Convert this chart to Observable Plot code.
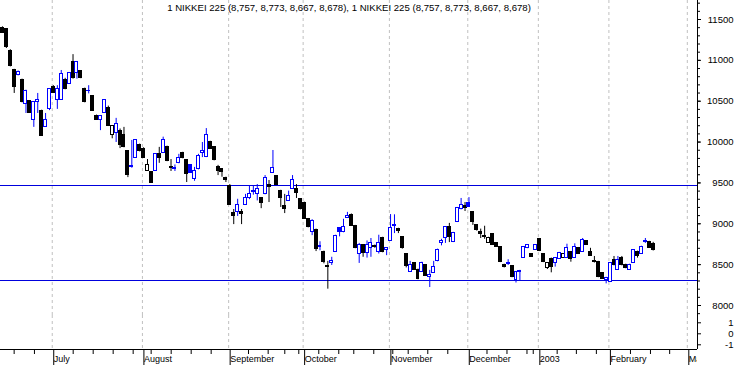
<!DOCTYPE html>
<html><head><meta charset="utf-8">
<script src="https://cdn.jsdelivr.net/npm/d3@7"></script>
<script src="https://cdn.jsdelivr.net/npm/@observablehq/plot@0.6"></script>
<style>
html,body{margin:0;padding:0;background:#fff;}
#chart{position:relative;width:738px;height:365px;overflow:hidden;background:#fff;}
#chart svg{position:absolute;left:0;}
</style></head><body><div id="chart"></div>
<script>
const title = "1 NIKKEI 225 (8,757, 8,773, 8,667, 8,678), 1 NIKKEI 225 (8,757, 8,773, 8,667, 8,678)";

const opens = [11390,11380,11120,10876,10820,10765,10470,10497,10264,10490,
10386,10180,10410,10670,10520,10520,10765,10715,10975,10850,
10865,10655,10625,10560,10325,10270,10360,10420,10090,10105,
10141,10090,9885,9690,9810,9970,9920,9640,9630,9650,
9850,9870,9945,9700,9675,9740,9870,9775,9715,9545,
9665,9870,9815,10005,9935,9690,9665,9565,9460,9130,
9150,9145,9235,9320,9395,9370,9310,9360,9480,9620,
9580,9405,9215,9280,9430,9430,9300,9260,9060,8900,
8930,8720,8660,8485,8520,8655,8945,8895,9070,9110,
8975,8635,8735,8640,8700,8725,8650,8830,8675,8795,
8975,8940,8835,8625,8410,8520,8440,8410,8490,8345,
8400,8540,8760,8830,8955,8775,9020,9185,9215,9260,
9140,8980,8905,8850,8765,8870,8760,8710,8500,8510,
8480,8315,8415,8585,8700,8625,8685,8815,8625,8465,
8575,8520,8575,8585,8580,8655,8580,8700,8660,8785,
8660,8550,8535,8395,8310,8290,8560,8435,8580,8500,
8435,8520,8660,8630,8775,8780,8757];

const highs = [11410,11385,11130,10890,10870,10770,10635,10500,10490,10595,
10390,10350,10650,10690,10690,10876,10780,10850,11070,10980,
10870,10660,10690,10565,10330,10325,10520,10440,10200,10290,
10160,10180,9890,10020,10025,9975,9930,9786,9635,9855,
9935,10060,9950,9786,9720,9850,9875,9780,9720,9690,
9850,9995,10165,10010,9940,9715,9675,9570,9480,9175,
9300,9175,9360,9460,9460,9480,9320,9590,9530,9897,
9585,9410,9360,9400,9590,9480,9305,9265,9065,9050,
8935,8780,8665,8540,8590,8860,8950,9055,9140,9120,
8980,8760,8745,8790,8820,8740,8860,8835,8705,9113,
9110,8945,8840,8630,8540,8525,8445,8530,8495,8430,
8540,8690,8810,8965,9005,8895,9200,9310,9260,9320,
9145,8985,8935,8970,8835,8875,8765,8715,8505,8560,
8485,8415,8430,8720,8740,8630,8740,8820,8630,8520,
8580,8585,8650,8630,8750,8660,8755,8710,8820,8790,
8700,8600,8540,8400,8345,8525,8600,8600,8600,8505,
8505,8685,8665,8725,8820,8785,8773];

const lows = [11330,11145,10920,10595,10810,10480,10350,10355,10180,10350,
10070,10180,10385,10600,10400,10510,10640,10710,10770,10770,
10775,10480,10590,10380,10270,10140,10355,10190,10040,9995,
9920,9930,9565,9680,9805,9880,9800,9640,9500,9645,
9740,9865,9760,9640,9640,9735,9795,9505,9620,9520,
9660,9810,9810,9915,9770,9590,9570,9505,9225,8990,
9090,8990,9230,9295,9350,9280,9185,9355,9260,9620,
9475,9200,9125,9275,9425,9310,9170,9055,8950,8855,
8660,8670,8510,8200,8490,8650,8840,8890,9065,8970,
8695,8515,8590,8580,8590,8700,8630,8645,8610,8790,
8880,8880,8690,8460,8405,8435,8315,8405,8355,8220,
8395,8535,8730,8760,8770,8770,9015,9170,9150,9200,
8980,8910,8820,8810,8760,8740,8710,8525,8460,8490,
8340,8275,8305,8580,8695,8590,8680,8660,8525,8440,
8400,8470,8570,8580,8575,8530,8575,8625,8655,8740,
8605,8520,8340,8320,8265,8285,8485,8430,8485,8450,
8430,8515,8580,8625,8760,8700,8667];

const closes = [11340,11160,10925,10670,10855,10485,10630,10360,10485,10510,
10080,10270,10645,10605,10645,10830,10655,10840,10780,10975,
10780,10485,10630,10386,10275,10320,10509,10200,10195,10227,
9960,9935,9600,9710,10020,9885,9810,9715,9505,9850,
9810,10020,9765,9680,9685,9810,9800,9615,9625,9650,
9825,9885,10090,9920,9775,9640,9630,9530,9230,9100,
9235,9125,9320,9370,9400,9430,9250,9555,9445,9680,
9480,9320,9175,9335,9540,9380,9175,9060,8955,9040,
8695,8725,8535,8470,8540,8855,8895,8960,9100,8975,
8700,8735,8640,8735,8770,8720,8770,8650,8700,8950,
8985,8910,8700,8480,8490,8440,8320,8525,8360,8375,
8475,8685,8790,8960,8835,8890,9195,9225,9195,9210,
9020,8930,8870,8835,8830,8745,8715,8530,8470,8520,
8345,8410,8425,8715,8735,8595,8735,8665,8530,8515,
8475,8580,8640,8625,8700,8570,8720,8630,8805,8745,
8610,8530,8345,8325,8340,8520,8490,8560,8490,8455,
8500,8680,8610,8720,8790,8705,8678];

const levels = [9470, 8310];
const priceTicks = [8000, 8500, 9000, 9500, 10000, 10500, 11000, 11500];
const priceMinorTicks = d3.range(7900, 11800, 100);
const volumeTicks = [1, 0, -1];
const monthNames = ["July", "August", "September", "October", "November", "December", "2003", "February", "March"];
const monthStart = [13, 36, 58, 77, 99, 119, 137, 155, 175];
const weekTicks = [2.98, 8.16, 18.04, 23.14, 28.24, 33.34, 37.93, 43.04, 48.14, 53.24, 62.76, 67.78, 72.02, 75.59, 80.69, 85.79, 89.62, 94.72, 99.57, 103.5, 108.5, 113.6, 123.6, 128.7, 133.8, 135.4, 141.5, 146.4, 151.5, 160.2, 165.3, 170.2];

const BLUE = "#0000ff", LINE = "#0000dd", BLACK = "#000000", GRID = "#c0c0c0";
const FONT = "'Liberation Sans', Arial, sans-serif";
const xDomain = [-0.5, 177.3];
const monthPos = monthStart.map(s => s - 0.3);

const candles = opens.map((o, i) => {
  const c = closes[i];
  const up = i > 0 && c > closes[i - 1];
  const color = up ? BLUE : BLACK;
  return {i, o, h: highs[i], l: lows[i], c, color, fill: c > o ? "white" : color};
});

const price = Plot.plot({
  width: 738, height: 315,
  marginLeft: 0, marginRight: 41, marginTop: 0, marginBottom: 0,
  style: {fontFamily: FONT, fontSize: "9.5px", background: "white", color: "black"},
  x: {domain: xDomain, axis: null},
  y: {domain: [8000, 11500], range: [305, 19]},
  color: {type: "identity"},
  marks: [
    Plot.ruleX(monthPos, {stroke: GRID, strokeDasharray: "3,3"}),
    Plot.ruleY(levels, {stroke: LINE, shapeRendering: "crispEdges"}),
    Plot.ruleX(candles, {x: "i", y1: "l", y2: "h", stroke: "color"}),
    Plot.rect(candles, {x1: d => d.i - 0.38, x2: d => d.i + 0.38, y1: "o", y2: "c", fill: "fill", stroke: "color", shapeRendering: "crispEdges"}),
    Plot.ruleX([xDomain[1]], {stroke: BLACK}),
    Plot.axisY({anchor: "right", ticks: priceMinorTicks, tickSize: 2, tickFormat: () => "", label: null}),
    Plot.axisY({anchor: "right", ticks: priceTicks, tickSize: 3, tickPadding: 33, textAnchor: "end", tickFormat: d => String(d), label: null, fontSize: 9.5}),
    Plot.text([title], {frameAnchor: "top", dy: 4, lineAnchor: "top", fontSize: 9.6, text: d => d})
  ]
});

const vol = Plot.plot({
  width: 738, height: 50,
  marginLeft: 0, marginRight: 41, marginTop: 0, marginBottom: 16,
  style: {fontFamily: FONT, fontSize: "9.5px", background: "white", color: "black"},
  x: {domain: xDomain, axis: null},
  y: {domain: [-1, 1], range: [29.3, 7.3]},
  marks: [
    Plot.ruleX(monthPos, {stroke: GRID, strokeDasharray: "3,3"}),
    Plot.ruleX([xDomain[1]], {stroke: BLACK}),
    Plot.axisY({anchor: "right", ticks: volumeTicks, tickSize: 3, tickPadding: 33, textAnchor: "end", tickFormat: d => String(d), label: null, fontSize: 9.5})
  ]
});

const axis = Plot.plot({
  width: 697, height: 50,
  marginLeft: 0, marginRight: 0, marginTop: 0, marginBottom: 16,
  style: {fontFamily: FONT, fontSize: "9px", background: "transparent", color: "black", overflow: "hidden"},
  x: {domain: xDomain},
  y: {domain: [0, 1], axis: null},
  marks: [
    Plot.ruleY([0], {stroke: BLACK}),
    Plot.axisX({ticks: weekTicks, tickSize: 5, tickFormat: () => "", label: null}),
    Plot.axisX({ticks: monthPos, tickSize: 16, tickPadding: -9.5, textAnchor: "start", dx: 1.5, tickFormat: d => monthNames[monthPos.indexOf(d)], label: null, fontSize: 9})
  ]
});

const root = document.getElementById("chart");
price.style.top = "0px";
vol.style.top = "315px";
axis.style.top = "315px";
root.appendChild(price);
root.appendChild(vol);
root.appendChild(axis);
</script>
</body></html>
